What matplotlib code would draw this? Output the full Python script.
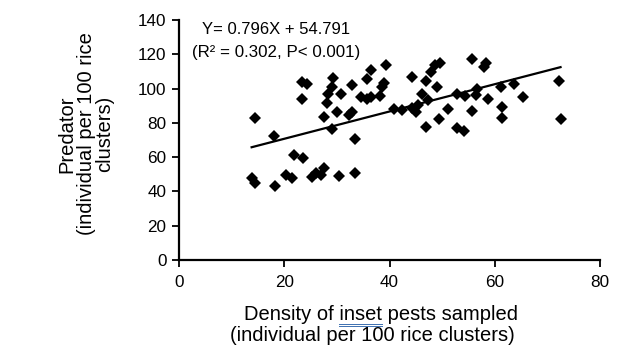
import matplotlib
matplotlib.use("Agg")
import matplotlib.pyplot as plt
import numpy as np

plt.rcParams['font.family'] = ['Liberation Sans', 'DejaVu Sans']

# Data
pest_density = [14.5, 18.1, 13.8, 14.5, 18.3, 20.4, 21.5, 21.9, 23.6, 23.4, 24.4, 23.4,
                 25.3, 26.0, 27.0, 27.5, 30.4, 33.4, 33.4, 29.0, 27.5, 30.0, 32.3, 32.8,
                 28.1, 28.3, 29.0, 29.2, 30.8, 32.8, 34.5, 35.8, 36.4, 35.7, 36.4, 38.1,
                 38.5, 39.4, 39.0, 44.3, 47.0, 47.9, 48.7, 49.6, 49.0, 46.2, 47.4, 40.8,
                 42.3, 44.2, 45.1, 45.5, 47.0, 49.4, 51.1, 52.8, 54.3, 52.8, 54.2, 55.7,
                 55.7, 57.9, 58.3, 56.4, 56.6, 58.7, 61.1, 61.3, 61.3, 63.6, 65.3, 72.3,
                 72.5]
predator = [82.8, 72.3, 47.8, 45.0, 43.0, 49.6, 47.8, 61.3, 59.5, 103.8, 102.7, 93.9,
            48.4, 50.7, 49.6, 53.7, 49.0, 50.7, 70.6, 76.4, 83.4, 86.3, 84.6, 86.3,
            91.6, 96.8, 101.0, 106.0, 96.8, 102.0, 95.0, 93.9, 95.0, 105.6, 110.8, 95.7,
            101.0, 113.8, 103.0, 106.8, 104.4, 109.7, 113.8, 115.0, 101.0, 96.8, 93.3, 88.1,
            87.5, 88.7, 86.3, 90.4, 77.6, 82.3, 88.1, 96.8, 95.7, 77.0, 75.3, 86.9,
            117.3, 112.6, 115.0, 96.3, 99.8, 93.9, 101.0, 89.3, 82.8, 102.7, 95.0, 104.4,
            82.3]
slope = 0.796
intercept = 54.791
x_ticks = [0, 20, 40, 60, 80]
y_ticks = [0, 20, 40, 60, 80, 100, 120, 140]

fig = plt.figure(figsize=(6.17, 3.59), dpi=100)
ax = fig.add_axes([179/617, 1-260/359, (600-179)/617, (260-20)/359])

ax.plot(pest_density, predator, linestyle='none', marker='D', color='black',
        markersize=6.3, markeredgewidth=0)
xs = np.array([min(pest_density), max(pest_density)])
ax.plot(xs, slope*xs + intercept, color='black', linewidth=1.6)

ax.set_xlim(0, 80)
ax.set_ylim(0, 140)
ax.set_xticks(x_ticks)
ax.set_yticks(y_ticks)
for s in ['top', 'right']:
    ax.spines[s].set_visible(False)
for s in ['left', 'bottom']:
    ax.spines[s].set_linewidth(1.6)
ax.tick_params(axis='both', labelsize=12.3, width=1.3, length=5, direction='out')
ax.tick_params(axis='x', pad=6)
ax.tick_params(axis='y', pad=4)

fig.text(202/617, 1-29/359, "Y= 0.796X + 54.791", fontsize=12, va='center', ha='left')
fig.text(192/617, 1-53/359, "(R² = 0.302, P< 0.001)", fontsize=12.2, va='center', ha='left')

fig.text(86/617, 1-134/359, "Predator\n(individual per 100 rice\nclusters)", rotation=90,
         fontsize=14.5, ha='center', va='center', multialignment='center', linespacing=1.0)

t1 = fig.text(381/617, 1-320.5/359, "Density of inset pests sampled", fontsize=14.5,
              ha='center', va='baseline')
fig.text(372/617, 1-341/359, "(individual per 100 rice clusters)", fontsize=14.5,
         ha='center', va='baseline')

# spell-check style double underline under "inset"
fig.canvas.draw()
r = fig.canvas.get_renderer()
bb = t1.get_window_extent(r)
tmp = fig.text(0, 0, "Density of ", fontsize=14.5)
w_pre = tmp.get_window_extent(r).width
tmp.remove()
tmp = fig.text(0, 0, "inset", fontsize=14.5)
w_in = tmp.get_window_extent(r).width
tmp.remove()
x0 = (bb.x0 + w_pre) / fig.bbox.width
x1 = (bb.x0 + w_pre + w_in) / fig.bbox.width
for ypix in (323.5, 326.0):
    fig.add_artist(plt.Line2D([x0, x1], [1 - ypix/359]*2, color='#3c6fb0',
                              linewidth=0.7, transform=fig.transFigure))

fig.savefig("out.png", dpi=100)
